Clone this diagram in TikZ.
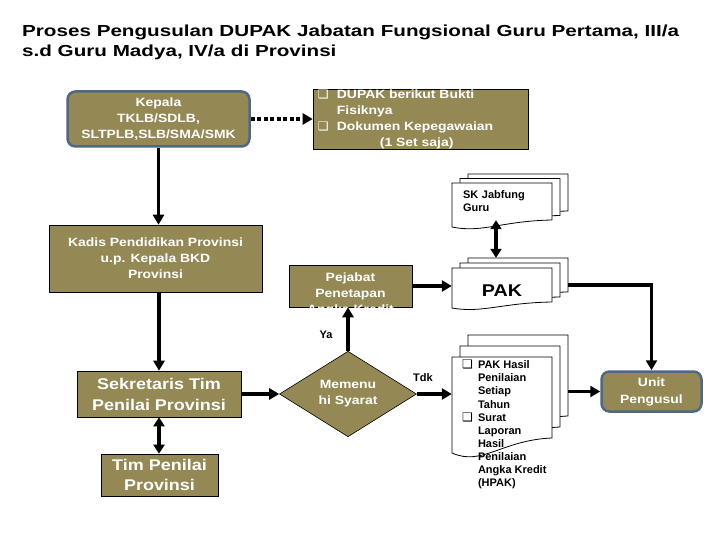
\documentclass[tikz,border=0pt]{standalone}
\usepackage{fontspec}
\setmainfont[FakeStretch=1.16]{Liberation Sans}
\newfontfamily\docfont{Liberation Sans}
\newfontfamily\titlefont[FakeStretch=1.29]{Liberation Sans}
\newfontfamily\symfont{DejaVu Sans}
\usetikzlibrary{arrows.meta,shapes.geometric}

\definecolor{olivefill}{RGB}{148,137,84}
\definecolor{steelline}{RGB}{79,104,133}

\newcommand\boxbullet{{\symfont\fontsize{12}{12}\selectfont ❑}}

% one sheet of a document: top-left, width, right height, extra depth at left
\newcommand\docpage[5]{%
  \filldraw[fill=white,draw=black,line width=0.8pt]
    ({#1},{#2}) -- ({#1+#3},{#2}) -- ({#1+#3},{#2+#4})
    .. controls ({#1+0.5*#3},{#2+#4+0.13*#5}) and ({#1+0.3*#3},{#2+#4+1.9*#5})
    .. ({#1},{#2+#4+#5}) -- cycle;}
\newcommand\docstack[7]{%
  \foreach \lay in {2,1,0}{\docpage{#1+\lay*#6}{#2-\lay*#7}{#3}{#4}{#5}}}

\begin{document}
\begin{tikzpicture}[
  x=1pt,
  y=-1pt,
  line join=miter,
  font=\fontsize{12}{16}\selectfont\bfseries,
  plainbox/.style={draw=black,line width=0.6pt,fill=olivefill,text=white,
    align=center,inner sep=0pt},
  softbox/.style={plainbox,rounded corners=8pt,draw=steelline,line width=2.5pt},
  docfront/.style={rectangle,minimum width=100,inner sep=0pt},
  doctext/.style={text=black,align=left,inner sep=0pt,
    font=\docfont\fontsize{11}{13.1}\selectfont\bfseries},
  lbl/.style={inner sep=0pt,font=\docfont\fontsize{11}{13}\selectfont\bfseries},
  flow/.style={line width=3.5pt,-{Triangle[length=10pt,width=11pt]}},
  twoway/.style={line width=3.5pt,
    {Triangle[length=9pt,width=11pt]}-{Triangle[length=9pt,width=11pt]}},
  dotflow/.style={flow,dash pattern=on 4pt off 2.5pt}
]
  \useasboundingbox[fill=white] (0,0) rectangle (720,540);

  \node[anchor=north west,align=left,inner sep=0pt,
    font=\titlefont\fontsize{16}{20}\selectfont\bfseries] (title) at (22,25)
    {Proses Pengusulan DUPAK Jabatan Fungsional Guru Pertama, III/a\\
     s.d Guru Madya, IV/a di Provinsi};

  % left column
  \node[softbox,minimum width=182,minimum height=55] (kepala) at (158.5,119)
    {Kepala\\TKLB/SDLB,\\SLTPLB,SLB/SMA/SMK};
  \node[plainbox,minimum width=213,minimum height=67] (kadis) at (155.5,258.5)
    {Kadis Pendidikan Provinsi\\u.p. Kepala BKD\\Provinsi};
  \node[plainbox,minimum width=164,minimum height=46,
    font=\fontsize{15.5}{21}\selectfont\bfseries] (sekretaris) at (159,394)
    {Sekretaris Tim\\Penilai Provinsi};
  \node[plainbox,minimum width=117,minimum height=42,
    font=\fontsize{15.5}{20}\selectfont\bfseries] (timpenilai) at (159.5,475)
    {Tim Penilai\\Provinsi};

  % middle column
  \node[plainbox,minimum width=215,minimum height=60] (dupak) at (420.5,119) {};
  \begin{scope}
    \clip (dupak.north west) rectangle (dupak.south east);
    \node[anchor=north west,align=left,inner sep=0pt,text=white]
      at ([xshift=5pt,yshift=-1pt]dupak.north west)
      {\makebox[19pt][l]{\boxbullet}DUPAK berikut Bukti\\
       \hspace*{19pt}Fisiknya\\
       \makebox[19pt][l]{\boxbullet}Dokumen Kepegawaian\\
       \hspace*{62pt}(1 Set saja)};
  \end{scope}
  \node[plainbox,minimum width=123,minimum height=42] (pejabat) at (350.5,286) {};
  \begin{scope}
    \clip (pejabat.north west) rectangle (pejabat.south east);
    \node[anchor=north,align=center,inner sep=0pt,text=white]
      at ([yshift=-8pt]pejabat.north) {Pejabat\\Penetapan\\Angka Kredit};
  \end{scope}
  \node[plainbox,diamond,minimum width=137,minimum height=85] (syarat) at (348,394)
    {Memenu\\hi Syarat};

  % documents
  \docstack{452}{183}{100}{37}{7}{8}{4.5}
  \node[docfront,minimum height=37,text width=78,doctext] (sk) at (502,201.5)
    {SK Jabfung\\Guru};
  \docstack{452}{268}{100}{34}{6}{8}{5}
  \node[docfront,minimum height=34] (pak) at (502,285) {};
  \node[inner sep=0pt,font=\fontsize{17}{20}\selectfont\bfseries]
    at ([yshift=-6pt]pak.center) {PAK};
  \docstack{452}{357}{100}{81}{15}{8}{11}
  \node[docfront,minimum height=81] (hpak) at (502,397.5) {};
  \node[doctext,anchor=north west] at ([xshift=10pt,yshift=-3pt]hpak.north west)
    {\makebox[16pt][l]{\boxbullet}PAK Hasil\\
     \hspace*{16pt}Penilaian\\
     \hspace*{16pt}Setiap\\
     \hspace*{16pt}Tahun\\
     \makebox[16pt][l]{\boxbullet}Surat\\
     \hspace*{16pt}Laporan\\
     \hspace*{16pt}Hasil\\
     \hspace*{16pt}Penilaian\\
     \hspace*{16pt}Angka Kredit\\
     \hspace*{16pt}(HPAK)};
  \coordinate (hpakrear) at ([xshift=16pt]hpak.east);

  % right column
  \node[softbox,minimum width=100,minimum height=40,
    font=\fontsize{12}{17}\selectfont\bfseries] (unit) at (651.5,391.5)
    {Unit\\Pengusul};

  % connectors
  \draw[flow] (kepala.south) -- (kepala.south |- kadis.north);
  \draw[dotflow] (kepala.east) -- (dupak.west);
  \draw[flow] (sekretaris.north |- kadis.south) -- (sekretaris.north);
  \draw[twoway] (sekretaris.south) -- (sekretaris.south |- timpenilai.north);
  \draw[flow] (sekretaris.east) -- (syarat.west);
  \draw[flow] (syarat.north) -- (syarat.north |- pejabat.south);
  \draw[flow] (syarat.east) -- (syarat.east -| hpak.west);
  \draw[flow] (pejabat.east) -- (pejabat.east -| pak.west);
  \draw[twoway] ([xshift=-6pt]sk.south) -- ([xshift=-6pt,yshift=10pt]pak.north);
  \draw[flow] ([xshift=16pt]pak.east) -| (unit.north);
  \draw[flow] (hpakrear |- unit.west) -- (unit.west);

  \node[lbl] (ya) at (326,335) {Ya};
  \node[lbl] (tdk) at (423,378) {Tdk};
\end{tikzpicture}
\end{document}
